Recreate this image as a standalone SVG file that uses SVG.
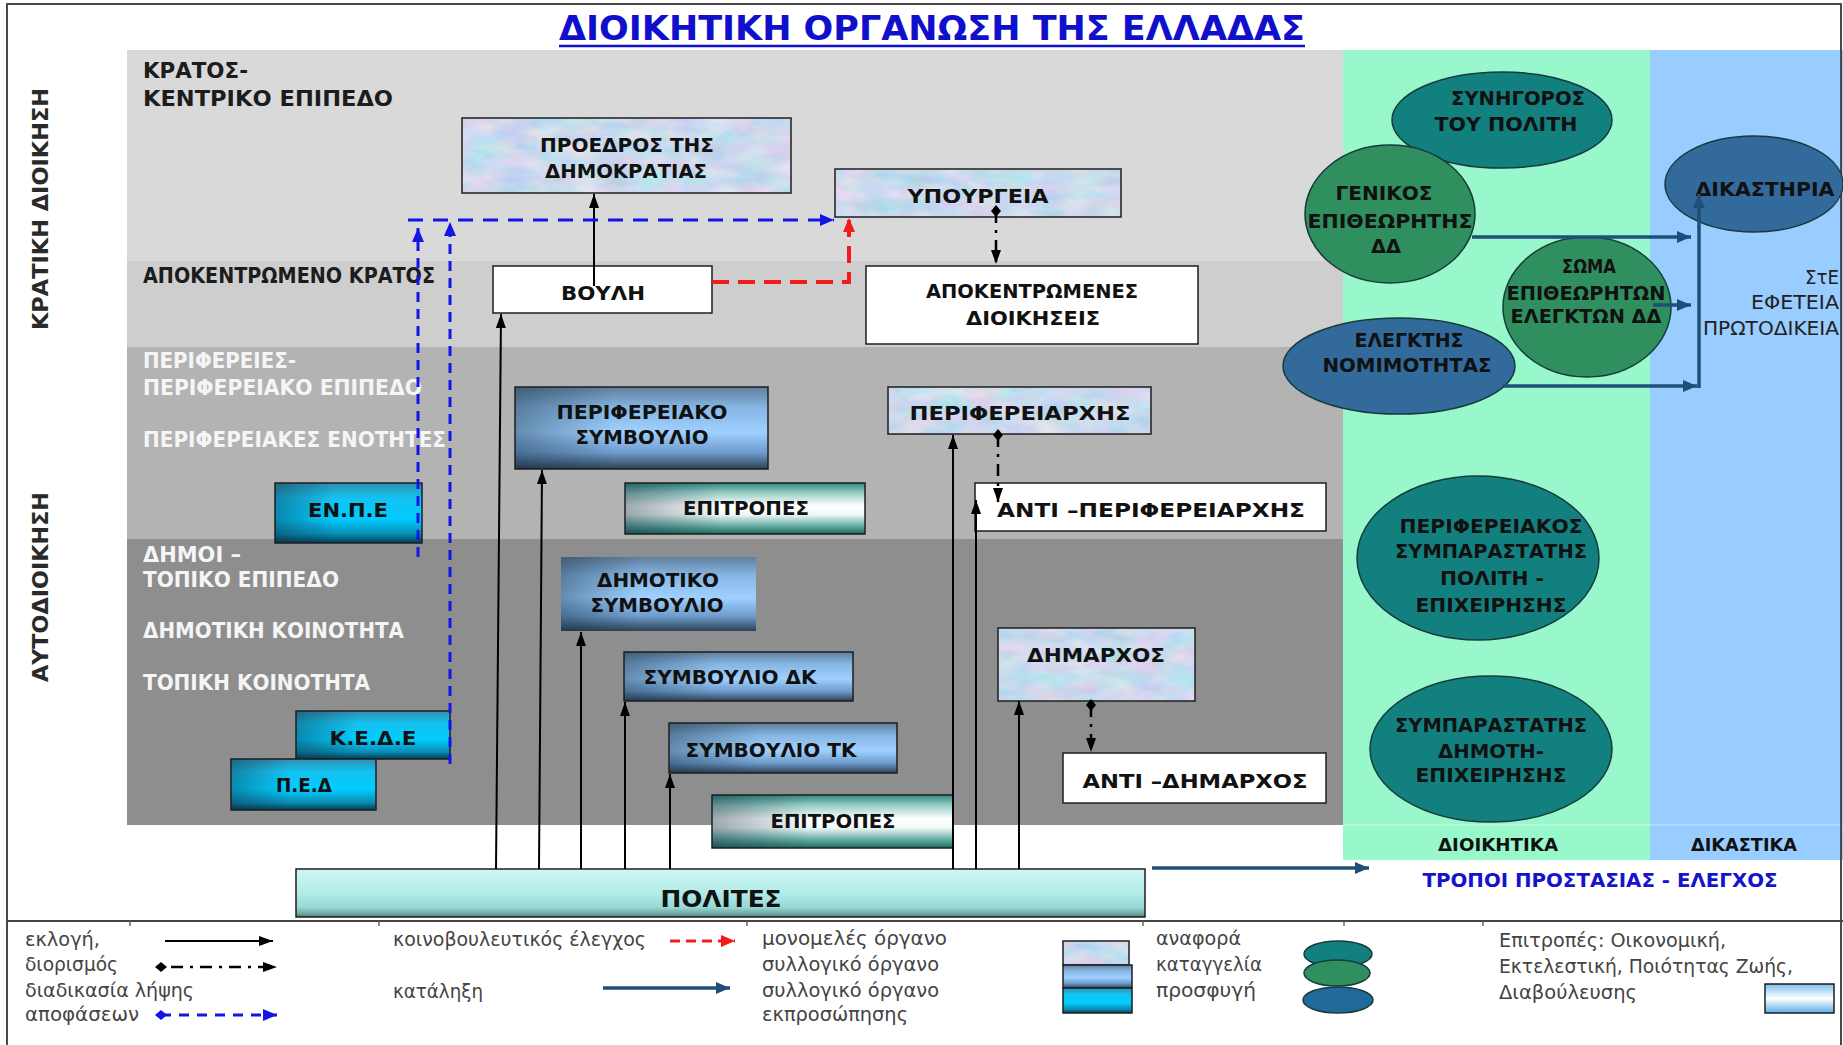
<svg xmlns="http://www.w3.org/2000/svg" width="1843" height="1045" viewBox="0 0 1843 1045">
<style>
 .t{font-family:"DejaVu Sans","Liberation Sans",sans-serif;font-weight:bold;font-size:20px;fill:#111;text-anchor:middle}
 .lv{font-family:"DejaVu Sans","Liberation Sans",sans-serif;font-weight:bold;font-size:21px}
 .dk{fill:#1c1c1c}
 .wt{fill:#f5f5f5}
 .side{font-family:"DejaVu Sans","Liberation Sans",sans-serif;font-weight:bold;font-size:21px;fill:#2a2a2a;text-anchor:middle}
 .lg{font-family:"DejaVu Sans","Liberation Sans",sans-serif;font-size:19px;fill:#444}
 .rt{font-family:"DejaVu Sans","Liberation Sans",sans-serif;font-size:19px;fill:#222;text-anchor:end}
 .bx{fill:none;stroke:#1e1e1e;stroke-width:1.5}
 .el{stroke:#173a3a;stroke-width:1.5}
 .blk{fill:none;stroke:#000;stroke-width:2}
 .app{fill:none;stroke:#000;stroke-width:2.5;stroke-dasharray:12 7 3 7}
 .blu{fill:none;stroke:#1414e6;stroke-width:3}
 .red{fill:none;stroke:#f01c1c;stroke-width:4;stroke-dasharray:17 9}
 .nav{fill:none;stroke:#1f4e79;stroke-width:3.5}
</style>
<defs>
 <linearGradient id="gBlue" x1="0" y1="0" x2="0" y2="1">
  <stop offset="0" stop-color="#5f7f9f"/>
  <stop offset="0.25" stop-color="#86b6e2"/>
  <stop offset="0.55" stop-color="#9fd0ff"/>
  <stop offset="0.8" stop-color="#6e9ccc"/>
  <stop offset="1" stop-color="#2f4257"/>
 </linearGradient>
 <linearGradient id="gCyan" x1="0" y1="0" x2="0" y2="1">
  <stop offset="0" stop-color="#2e8fb0"/>
  <stop offset="0.25" stop-color="#14c2f0"/>
  <stop offset="0.6" stop-color="#00ccff"/>
  <stop offset="0.85" stop-color="#0a8cb4"/>
  <stop offset="1" stop-color="#003f55"/>
 </linearGradient>
 <linearGradient id="gTeal" x1="0" y1="0" x2="0" y2="1">
  <stop offset="0" stop-color="#2f8a80"/>
  <stop offset="0.2" stop-color="#9ccfc8"/>
  <stop offset="0.45" stop-color="#ffffff"/>
  <stop offset="0.62" stop-color="#f0f9f8"/>
  <stop offset="0.85" stop-color="#5ea89f"/>
  <stop offset="1" stop-color="#1e6a62"/>
 </linearGradient>
 <linearGradient id="gPol" x1="0" y1="0" x2="0" y2="1">
  <stop offset="0" stop-color="#d0f6f2"/>
  <stop offset="0.5" stop-color="#b2ece8"/>
  <stop offset="0.8" stop-color="#98d8d3"/>
  <stop offset="0.93" stop-color="#6ea9a4"/>
  <stop offset="1" stop-color="#4c7d79"/>
 </linearGradient>
 <linearGradient id="shade" x1="0" y1="0" x2="1" y2="0">
  <stop offset="0" stop-color="#10283c" stop-opacity="0.4"/>
  <stop offset="0.4" stop-color="#10283c" stop-opacity="0"/>
 </linearGradient>
 <linearGradient id="gLeg" x1="0" y1="0" x2="0" y2="1">
  <stop offset="0" stop-color="#7cbfee"/>
  <stop offset="0.5" stop-color="#ffffff"/>
  <stop offset="1" stop-color="#5aaee6"/>
 </linearGradient>
 <filter id="marble" x="0" y="0" width="1" height="1" color-interpolation-filters="sRGB">
  <feTurbulence type="fractalNoise" baseFrequency="0.03 0.07" numOctaves="3" seed="7" result="n"/>
  <feColorMatrix in="n" type="matrix" values="0.35 0 0 0 0.62  0 0.15 0 0 0.78  0 0 0.1 0 0.88  0 0 0 0 1" result="c"/>
  <feComposite in="c" in2="SourceGraphic" operator="in"/>
 </filter>
 <marker id="ah" viewBox="0 0 14 10" refX="14" refY="5" markerWidth="14" markerHeight="10" markerUnits="userSpaceOnUse" orient="auto"><path d="M0,0 L14,5 L0,10 z" fill="#000"/></marker>
 <marker id="ahB" viewBox="0 0 14 12" refX="14" refY="6" markerWidth="14" markerHeight="12" markerUnits="userSpaceOnUse" orient="auto"><path d="M0,0 L14,6 L0,12 z" fill="#1414e6"/></marker>
 <marker id="ahR" viewBox="0 0 14 12" refX="14" refY="6" markerWidth="14" markerHeight="12" markerUnits="userSpaceOnUse" orient="auto"><path d="M0,0 L14,6 L0,12 z" fill="#f01c1c"/></marker>
 <marker id="ahN" viewBox="0 0 14 12" refX="14" refY="6" markerWidth="14" markerHeight="12" markerUnits="userSpaceOnUse" orient="auto"><path d="M0,0 L14,6 L0,12 z" fill="#1f4e79"/></marker>
 <marker id="dm" viewBox="0 0 12 10" refX="6" refY="5" markerWidth="12" markerHeight="10" markerUnits="userSpaceOnUse" orient="auto"><path d="M0,5 L6,0 L12,5 L6,10 z" fill="#000"/></marker>
 <marker id="dmB" viewBox="0 0 12 10" refX="6" refY="5" markerWidth="12" markerHeight="10" markerUnits="userSpaceOnUse" orient="auto"><path d="M0,5 L6,0 L12,5 L6,10 z" fill="#1414e6"/></marker>
</defs>

<rect x="0" y="0" width="1843" height="1045" fill="#ffffff"/>

<g id="background">
 <rect x="127" y="50" width="1216" height="211" fill="#d9d9d9"/>
 <rect x="127" y="261" width="1216" height="86" fill="#cecece"/>
 <rect x="127" y="347" width="1216" height="192" fill="#b3b3b3"/>
 <rect x="127" y="539" width="1216" height="286" fill="#8e8e8e"/>
 <rect x="1343" y="50" width="307" height="810" fill="#99f7cc"/>
 <rect x="1650" y="50" width="193" height="810" fill="#99ccff"/>
 <line x1="1343" y1="825" x2="1843" y2="825" stroke="#ffffff" stroke-opacity="0.35" stroke-width="1.5"/>
 <rect x="7" y="4" width="1834" height="1050" fill="none" stroke="#4a4a4a" stroke-width="2"/>
</g>

<g id="title">
 <text x="932" y="40" text-anchor="middle" font-family="DejaVu Sans, Liberation Sans, sans-serif" font-weight="bold" font-size="34" fill="#1010cc" textLength="746" lengthAdjust="spacingAndGlyphs">ΔΙΟΙΚΗΤΙΚΗ ΟΡΓΑΝΩΣΗ ΤΗΣ ΕΛΛΑΔΑΣ</text>
 <line x1="559" y1="46" x2="1305" y2="46" stroke="#1010cc" stroke-width="2.5"/>
</g>

<g id="side-labels">
 <text class="side" transform="translate(48,209) rotate(-90)" textLength="242" lengthAdjust="spacingAndGlyphs">ΚΡΑΤΙΚΗ ΔΙΟΙΚΗΣΗ</text>
 <text class="side" transform="translate(48,587) rotate(-90)" textLength="190" lengthAdjust="spacingAndGlyphs">ΑΥΤΟΔΙΟΙΚΗΣΗ</text>
</g>

<g id="level-labels">
 <text class="lv dk" x="143" y="78" textLength="105" lengthAdjust="spacingAndGlyphs">ΚΡΑΤΟΣ-</text>
 <text class="lv dk" x="143" y="106" textLength="250" lengthAdjust="spacingAndGlyphs">ΚΕΝΤΡΙΚΟ ΕΠΙΠΕΔΟ</text>
 <text class="lv dk" x="143" y="283" textLength="292" lengthAdjust="spacingAndGlyphs">ΑΠΟΚΕΝΤΡΩΜΕΝΟ ΚΡΑΤΟΣ</text>
 <text class="lv wt" x="143" y="368" textLength="153" lengthAdjust="spacingAndGlyphs">ΠΕΡΙΦΕΡΕΙΕΣ-</text>
 <text class="lv wt" x="143" y="395" textLength="279" lengthAdjust="spacingAndGlyphs">ΠΕΡΙΦΕΡΕΙΑΚΟ ΕΠΙΠΕΔΟ</text>
 <text class="lv wt" x="143" y="447" textLength="303" lengthAdjust="spacingAndGlyphs">ΠΕΡΙΦΕΡΕΙΑΚΕΣ ΕΝΟΤΗΤΕΣ</text>
 <text class="lv wt" x="143" y="562" textLength="98" lengthAdjust="spacingAndGlyphs">ΔΗΜΟΙ –</text>
 <text class="lv wt" x="143" y="587" textLength="196" lengthAdjust="spacingAndGlyphs">ΤΟΠΙΚΟ ΕΠΙΠΕΔΟ</text>
 <text class="lv wt" x="143" y="638" textLength="261" lengthAdjust="spacingAndGlyphs">ΔΗΜΟΤΙΚΗ ΚΟΙΝΟΤΗΤΑ</text>
 <text class="lv wt" x="143" y="690" textLength="227" lengthAdjust="spacingAndGlyphs">ΤΟΠΙΚΗ ΚΟΙΝΟΤΗΤΑ</text>
</g>

<g id="proedros">
 <rect x="462" y="118" width="329" height="75" fill="#c8dcf2" filter="url(#marble)"/>
 <rect x="462" y="118" width="329" height="75" class="bx"/>
 <text class="t" x="627" y="152" textLength="174" lengthAdjust="spacingAndGlyphs">ΠΡΟΕΔΡΟΣ ΤΗΣ</text>
 <text class="t" x="626" y="178" textLength="162" lengthAdjust="spacingAndGlyphs">ΔΗΜΟΚΡΑΤΙΑΣ</text>
</g>
<g id="ypourgeia">
 <rect x="835" y="169" width="286" height="48" fill="#c8dcf2" filter="url(#marble)"/>
 <rect x="835" y="169" width="286" height="48" class="bx"/>
 <text class="t" x="978" y="203" textLength="141" lengthAdjust="spacingAndGlyphs">ΥΠΟΥΡΓΕΙΑ</text>
</g>
<g id="vouli">
 <rect x="493" y="266" width="219" height="47" class="bx" style="fill:#fff"/>
 <text class="t" x="603" y="300" textLength="84" lengthAdjust="spacingAndGlyphs">ΒΟΥΛΗ</text>
</g>
<g id="apokentromenes">
 <rect x="866" y="266" width="332" height="78" class="bx" style="fill:#fff"/>
 <text class="t" x="1032" y="298" textLength="212" lengthAdjust="spacingAndGlyphs">ΑΠΟΚΕΝΤΡΩΜΕΝΕΣ</text>
 <text class="t" x="1033" y="325" textLength="134" lengthAdjust="spacingAndGlyphs">ΔΙΟΙΚΗΣΕΙΣ</text>
</g>
<g id="perif-symvoulio">
 <rect x="515" y="387" width="253" height="82" fill="url(#gBlue)"/>
 <rect x="515" y="387" width="253" height="82" fill="url(#shade)"/>
 <rect x="515" y="387" width="253" height="82" class="bx"/>
 <text class="t" x="642" y="419" textLength="171" lengthAdjust="spacingAndGlyphs">ΠΕΡΙΦΕΡΕΙΑΚΟ</text>
 <text class="t" x="642" y="444" textLength="133" lengthAdjust="spacingAndGlyphs">ΣΥΜΒΟΥΛΙΟ</text>
</g>
<g id="epitropes-perif">
 <rect x="625" y="483" width="240" height="51" fill="url(#gTeal)"/>
 <rect x="625" y="483" width="240" height="51" fill="url(#shade)"/>
 <rect x="625" y="483" width="240" height="51" class="bx"/>
 <text class="t" x="746" y="515" textLength="126" lengthAdjust="spacingAndGlyphs">ΕΠΙΤΡΟΠΕΣ</text>
</g>
<g id="enpe">
 <rect x="275" y="483" width="147" height="60" fill="url(#gCyan)"/>
 <rect x="275" y="483" width="147" height="60" fill="url(#shade)"/>
 <rect x="275" y="483" width="147" height="60" class="bx"/>
 <text class="t" x="348" y="517" textLength="80" lengthAdjust="spacingAndGlyphs">ΕΝ.Π.Ε</text>
</g>
<g id="perifereiarchis">
 <rect x="888" y="387" width="263" height="47" fill="#c8dcf2" filter="url(#marble)"/>
 <rect x="888" y="387" width="263" height="47" class="bx"/>
 <text class="t" x="1020" y="420" textLength="221" lengthAdjust="spacingAndGlyphs">ΠΕΡΙΦΕΡΕΙΑΡΧΗΣ</text>
</g>
<g id="anti-perifereiarchis">
 <rect x="975" y="483" width="351" height="48" class="bx" style="fill:#fff"/>
 <text class="t" x="1151" y="517" textLength="308" lengthAdjust="spacingAndGlyphs">ΑΝΤΙ –ΠΕΡΙΦΕΡΕΙΑΡΧΗΣ</text>
</g>
<g id="dimotiko-symvoulio">
 <rect x="561" y="557" width="195" height="74" fill="url(#gBlue)"/>
 <rect x="561" y="557" width="195" height="74" fill="url(#shade)"/>
 <text class="t" x="658" y="587" textLength="122" lengthAdjust="spacingAndGlyphs">ΔΗΜΟΤΙΚΟ</text>
 <text class="t" x="657" y="612" textLength="133" lengthAdjust="spacingAndGlyphs">ΣΥΜΒΟΥΛΙΟ</text>
</g>
<g id="symvoulio-dk">
 <rect x="624" y="652" width="229" height="49" fill="url(#gBlue)"/>
 <rect x="624" y="652" width="229" height="49" fill="url(#shade)"/>
 <rect x="624" y="652" width="229" height="49" class="bx"/>
 <text class="t" x="730" y="684" textLength="173" lengthAdjust="spacingAndGlyphs">ΣΥΜΒΟΥΛΙΟ ΔΚ</text>
</g>
<g id="symvoulio-tk">
 <rect x="669" y="723" width="228" height="50" fill="url(#gBlue)"/>
 <rect x="669" y="723" width="228" height="50" fill="url(#shade)"/>
 <rect x="669" y="723" width="228" height="50" class="bx"/>
 <text class="t" x="771" y="757" textLength="171" lengthAdjust="spacingAndGlyphs">ΣΥΜΒΟΥΛΙΟ ΤΚ</text>
</g>
<g id="epitropes-topikes">
 <rect x="712" y="795" width="241" height="53" fill="url(#gTeal)"/>
 <rect x="712" y="795" width="241" height="53" fill="url(#shade)"/>
 <rect x="712" y="795" width="241" height="53" class="bx"/>
 <text class="t" x="833" y="828" textLength="125" lengthAdjust="spacingAndGlyphs">ΕΠΙΤΡΟΠΕΣ</text>
</g>
<g id="kede">
 <rect x="296" y="711" width="154" height="48" fill="url(#gCyan)"/>
 <rect x="296" y="711" width="154" height="48" fill="url(#shade)"/>
 <rect x="296" y="711" width="154" height="48" class="bx"/>
 <text class="t" x="373" y="745" textLength="87" lengthAdjust="spacingAndGlyphs">Κ.Ε.Δ.Ε</text>
</g>
<g id="ped">
 <rect x="231" y="759" width="145" height="51" fill="url(#gCyan)"/>
 <rect x="231" y="759" width="145" height="51" fill="url(#shade)"/>
 <rect x="231" y="759" width="145" height="51" class="bx"/>
 <text class="t" x="304" y="792" textLength="56" lengthAdjust="spacingAndGlyphs">Π.Ε.Δ</text>
</g>
<g id="dimarchos">
 <rect x="998" y="628" width="197" height="73" fill="#c8dcf2" filter="url(#marble)"/>
 <rect x="998" y="628" width="197" height="73" class="bx"/>
 <text class="t" x="1096" y="662" textLength="138" lengthAdjust="spacingAndGlyphs">ΔΗΜΑΡΧΟΣ</text>
</g>
<g id="anti-dimarchos">
 <rect x="1063" y="753" width="263" height="50" class="bx" style="fill:#fff"/>
 <text class="t" x="1195" y="788" textLength="225" lengthAdjust="spacingAndGlyphs">ΑΝΤΙ –ΔΗΜΑΡΧΟΣ</text>
</g>
<g id="polites">
 <rect x="296" y="869" width="849" height="48" fill="url(#gPol)"/>
 <rect x="296" y="869" width="849" height="48" class="bx"/>
 <text class="t" x="721" y="907" style="font-size:23px" textLength="121" lengthAdjust="spacingAndGlyphs">ΠΟΛΙΤΕΣ</text>
</g>

<g id="synigoros">
 <ellipse cx="1502" cy="120" rx="110" ry="48" fill="#138080" class="el"/>
 <text class="t" x="1518" y="105" textLength="134" lengthAdjust="spacingAndGlyphs">ΣΥΝΗΓΟΡΟΣ</text>
 <text class="t" x="1506" y="131" textLength="143" lengthAdjust="spacingAndGlyphs">ΤΟΥ ΠΟΛΙΤΗ</text>
</g>
<g id="genikos">
 <ellipse cx="1390" cy="214" rx="85" ry="69" fill="#2f8f5f" class="el"/>
 <text class="t" x="1384" y="200" textLength="97" lengthAdjust="spacingAndGlyphs">ΓΕΝΙΚΟΣ</text>
 <text class="t" x="1390" y="228" textLength="165" lengthAdjust="spacingAndGlyphs">ΕΠΙΘΕΩΡΗΤΗΣ</text>
 <text class="t" x="1386" y="253" textLength="30" lengthAdjust="spacingAndGlyphs">ΔΔ</text>
</g>
<g id="dikastiria">
 <ellipse cx="1754" cy="184" rx="89" ry="48" fill="#336a9c" class="el"/>
 <text class="t" x="1765" y="196" textLength="139" lengthAdjust="spacingAndGlyphs">ΔΙΚΑΣΤΗΡΙΑ</text>
</g>
<g id="soma">
 <ellipse cx="1587" cy="307" rx="84" ry="70" fill="#2f8f5f" class="el"/>
 <text class="t" x="1589" y="273" textLength="54" lengthAdjust="spacingAndGlyphs">ΣΩΜΑ</text>
 <text class="t" x="1586" y="300" textLength="159" lengthAdjust="spacingAndGlyphs">ΕΠΙΘΕΩΡΗΤΩΝ</text>
 <text class="t" x="1586" y="323" textLength="151" lengthAdjust="spacingAndGlyphs">ΕΛΕΓΚΤΩΝ ΔΔ</text>
</g>
<g id="elegktis">
 <ellipse cx="1399" cy="366" rx="116" ry="48" fill="#336a9c" class="el"/>
 <text class="t" x="1409" y="347" textLength="109" lengthAdjust="spacingAndGlyphs">ΕΛΕΓΚΤΗΣ</text>
 <text class="t" x="1407" y="372" textLength="169" lengthAdjust="spacingAndGlyphs">ΝΟΜΙΜΟΤΗΤΑΣ</text>
</g>
<g id="perif-symparastatis">
 <ellipse cx="1478" cy="558" rx="121" ry="82" fill="#138080" class="el"/>
 <text class="t" x="1491" y="533" textLength="183" lengthAdjust="spacingAndGlyphs">ΠΕΡΙΦΕΡΕΙΑΚΟΣ</text>
 <text class="t" x="1491" y="558" textLength="192" lengthAdjust="spacingAndGlyphs">ΣΥΜΠΑΡΑΣΤΑΤΗΣ</text>
 <text class="t" x="1492" y="585" textLength="104" lengthAdjust="spacingAndGlyphs">ΠΟΛΙΤΗ -</text>
 <text class="t" x="1491" y="612" textLength="151" lengthAdjust="spacingAndGlyphs">ΕΠΙΧΕΙΡΗΣΗΣ</text>
</g>
<g id="symparastatis-dimoti">
 <ellipse cx="1491" cy="749" rx="121" ry="73" fill="#138080" class="el"/>
 <text class="t" x="1491" y="732" textLength="192" lengthAdjust="spacingAndGlyphs">ΣΥΜΠΑΡΑΣΤΑΤΗΣ</text>
 <text class="t" x="1491" y="758" textLength="106" lengthAdjust="spacingAndGlyphs">ΔΗΜΟΤΗ-</text>
 <text class="t" x="1491" y="782" textLength="151" lengthAdjust="spacingAndGlyphs">ΕΠΙΧΕΙΡΗΣΗΣ</text>
</g>

<g id="panel-labels">
 <text class="rt" x="1839" y="284" textLength="34" lengthAdjust="spacingAndGlyphs">ΣτΕ</text>
 <text class="rt" x="1839" y="309" textLength="88" lengthAdjust="spacingAndGlyphs">ΕΦΕΤΕΙΑ</text>
 <text class="rt" x="1839" y="335" textLength="136" lengthAdjust="spacingAndGlyphs">ΠΡΩΤΟΔΙΚΕΙΑ</text>
 <text class="t" x="1498" y="851" style="font-size:17px" textLength="120" lengthAdjust="spacingAndGlyphs">ΔΙΟΙΚΗΤΙΚΑ</text>
 <text class="t" x="1744" y="851" style="font-size:17px" textLength="106" lengthAdjust="spacingAndGlyphs">ΔΙΚΑΣΤΙΚΑ</text>
 <text class="t" x="1600" y="887" style="fill:#1414cc" textLength="355" lengthAdjust="spacingAndGlyphs">ΤΡΟΠΟΙ ΠΡΟΣΤΑΣΙΑΣ - ΕΛΕΓΧΟΣ</text>
</g>

<g id="connectors">
 <path class="blk" d="M496,869 L501,314" marker-end="url(#ah)"/>
 <path class="blk" d="M539,869 L542,470" marker-end="url(#ah)"/>
 <path class="blk" d="M581,869 V632" marker-end="url(#ah)"/>
 <path class="blk" d="M625,869 V702" marker-end="url(#ah)"/>
 <path class="blk" d="M670,869 V774" marker-end="url(#ah)"/>
 <path class="blk" d="M953,869 V435" marker-end="url(#ah)"/>
 <path class="blk" d="M976,869 V500" marker-end="url(#ah)"/>
 <path class="blk" d="M1019,869 V701" marker-end="url(#ah)"/>
 <path class="blk" d="M594,286 V194" marker-end="url(#ah)"/>
 <path class="app" d="M996,211 V264" marker-start="url(#dm)" marker-end="url(#ah)"/>
 <path class="app" d="M998,435 V502" marker-start="url(#dm)" marker-end="url(#ah)"/>
 <path class="app" d="M1091,705 V752" marker-start="url(#dm)" marker-end="url(#ah)"/>
 <path class="blu" style="stroke-dasharray:15 10" d="M408,220 H834" marker-end="url(#ahB)"/>
 <path class="blu" style="stroke-dasharray:10 7" d="M418,557 V228" marker-end="url(#ahB)"/>
 <path class="blu" style="stroke-dasharray:10 7" d="M450,764 V222" marker-end="url(#ahB)"/>
 <path class="red" d="M712,282 H849 V218" marker-end="url(#ahR)"/>
 <path class="nav" d="M1152,868 H1369" marker-end="url(#ahN)"/>
 <path class="nav" d="M1472,237 H1691" marker-end="url(#ahN)"/>
 <path class="nav" d="M1653,305 H1691" marker-end="url(#ahN)"/>
 <path class="nav" d="M1503,386 H1697" marker-end="url(#ahN)"/>
 <path class="nav" d="M1699,388 V194" marker-end="url(#ahN)"/>
</g>

<g id="legend">
 <line x1="7" y1="921" x2="1843" y2="921" stroke="#444" stroke-width="2"/>
 <g stroke="#666" stroke-width="1.5">
  <line x1="130" y1="921" x2="130" y2="926"/>
  <line x1="379" y1="921" x2="379" y2="926"/>
  <line x1="747" y1="921" x2="747" y2="926"/>
  <line x1="1143" y1="921" x2="1143" y2="926"/>
  <line x1="1344" y1="921" x2="1344" y2="926"/>
  <line x1="1483" y1="921" x2="1483" y2="926"/>
 </g>
 <text class="lg" x="25" y="946" textLength="75" lengthAdjust="spacingAndGlyphs">εκλογή,</text>
 <text class="lg" x="25" y="971" textLength="93" lengthAdjust="spacingAndGlyphs">διορισμός</text>
 <text class="lg" x="25" y="997" textLength="169" lengthAdjust="spacingAndGlyphs">διαδικασία λήψης</text>
 <text class="lg" x="25" y="1021" textLength="114" lengthAdjust="spacingAndGlyphs">αποφάσεων</text>
 <path class="blk" d="M165,941 H273" marker-end="url(#ah)"/>
 <path class="app" style="stroke-dasharray:3 7 12 7" d="M161,967 H277" marker-start="url(#dm)" marker-end="url(#ah)"/>
 <path class="blu" style="stroke-dasharray:10 8" d="M161,1015 H277" marker-start="url(#dmB)" marker-end="url(#ahB)"/>
 <text class="lg" x="393" y="946" textLength="253" lengthAdjust="spacingAndGlyphs">κοινοβουλευτικός έλεγχος</text>
 <text class="lg" x="393" y="998" textLength="90" lengthAdjust="spacingAndGlyphs">κατάληξη</text>
 <path class="red" style="stroke-width:3;stroke-dasharray:10 6" d="M670,941 H735" marker-end="url(#ahR)"/>
 <path class="nav" d="M603,988 H730" marker-end="url(#ahN)"/>
 <text class="lg" x="762" y="945" textLength="185" lengthAdjust="spacingAndGlyphs">μονομελές όργανο</text>
 <text class="lg" x="762" y="971" textLength="177" lengthAdjust="spacingAndGlyphs">συλλογικό όργανο</text>
 <text class="lg" x="762" y="997" textLength="177" lengthAdjust="spacingAndGlyphs">συλλογικό όργανο</text>
 <text class="lg" x="762" y="1021" textLength="146" lengthAdjust="spacingAndGlyphs">εκπροσώπησης</text>
 <rect x="1063" y="941" width="66" height="24" fill="#c8dcf2" filter="url(#marble)"/>
 <rect x="1063" y="941" width="66" height="24" class="bx"/>
 <rect x="1063" y="965" width="69" height="23" fill="url(#gBlue)"/>
 <rect x="1063" y="965" width="69" height="23" class="bx"/>
 <rect x="1063" y="988" width="69" height="25" fill="url(#gCyan)"/>
 <rect x="1063" y="988" width="69" height="25" class="bx"/>
 <text class="lg" x="1156" y="945" textLength="85" lengthAdjust="spacingAndGlyphs">αναφορά</text>
 <text class="lg" x="1156" y="971" textLength="106" lengthAdjust="spacingAndGlyphs">καταγγελία</text>
 <text class="lg" x="1156" y="997" textLength="100" lengthAdjust="spacingAndGlyphs">προσφυγή</text>
 <ellipse cx="1338" cy="954" rx="34" ry="13" fill="#138080" class="el"/>
 <ellipse cx="1337" cy="973" rx="33" ry="13" fill="#2f8f5f" class="el"/>
 <ellipse cx="1338" cy="1000" rx="35" ry="13" fill="#1f6a9a" class="el"/>
 <text class="lg" x="1499" y="947" textLength="227" lengthAdjust="spacingAndGlyphs">Επιτροπές: Οικονομική,</text>
 <text class="lg" x="1499" y="973" textLength="294" lengthAdjust="spacingAndGlyphs">Εκτελεστική, Ποιότητας Ζωής,</text>
 <text class="lg" x="1499" y="999" textLength="138" lengthAdjust="spacingAndGlyphs">Διαβούλευσης</text>
 <rect x="1765" y="984" width="69" height="29" fill="url(#gLeg)" stroke="#1e1e1e" stroke-width="1.5"/>
</g>
</svg>
